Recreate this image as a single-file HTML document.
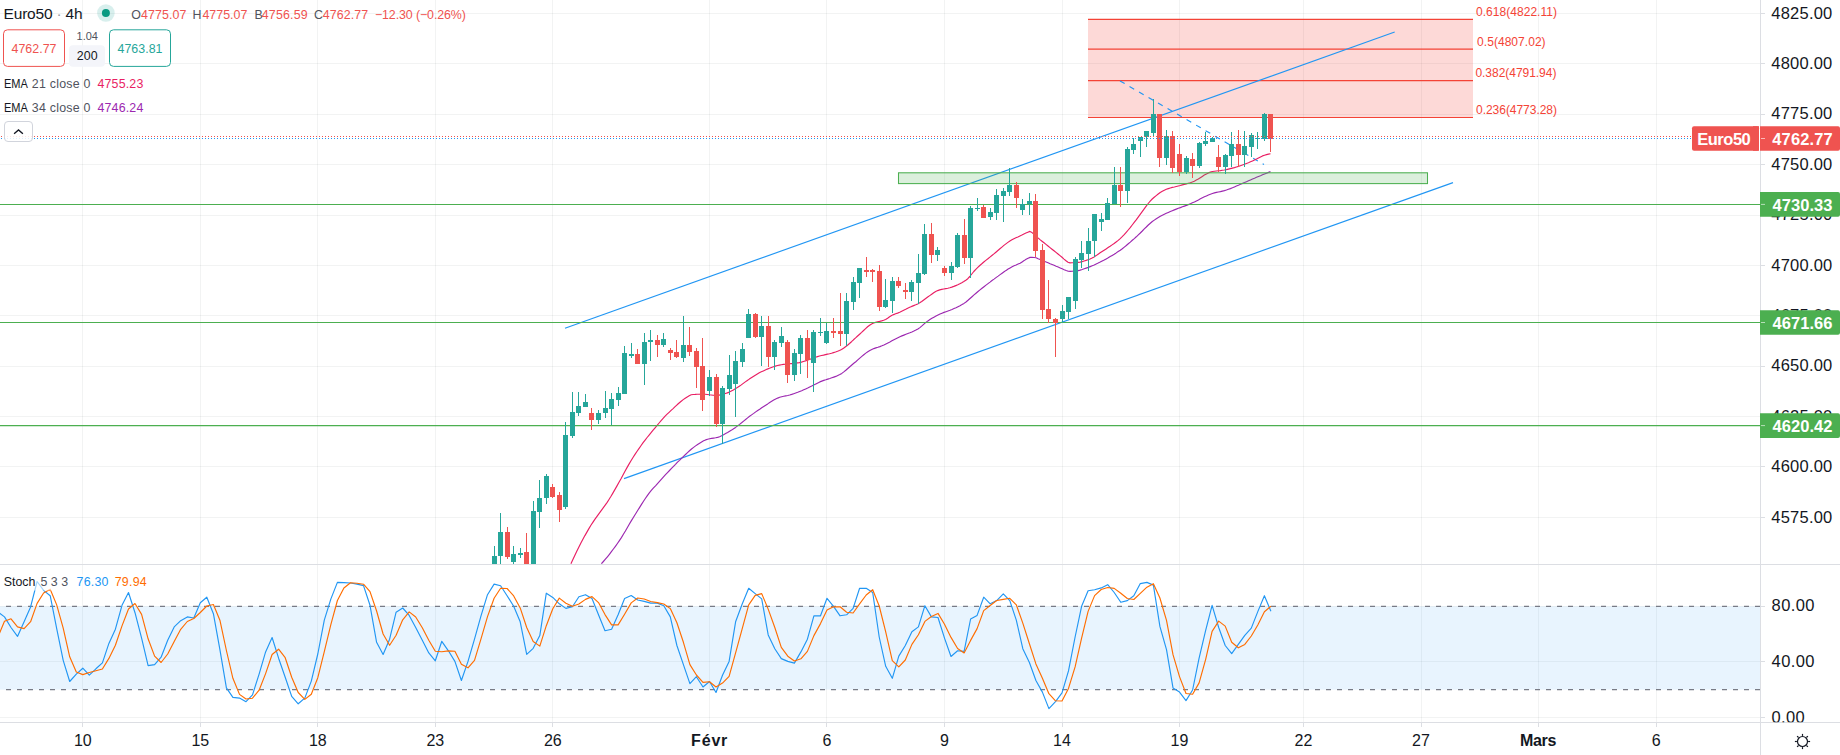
<!DOCTYPE html><html><head><meta charset="utf-8"><title>Euro50 4h</title>
<style>html,body{margin:0;padding:0;background:#fff;overflow:hidden}body{width:1840px;height:755px;position:relative;font-family:"Liberation Sans", Arial, sans-serif}svg{position:absolute;left:0;top:0;display:block}text{font-family:"Liberation Sans", Arial, sans-serif}</style></head><body>
<svg width="1840" height="755" viewBox="0 0 1840 755">
<rect width="1840" height="755" fill="#fff"/>
<defs><clipPath id="cm"><rect x="0" y="0" width="1760" height="564"/></clipPath><clipPath id="cs"><rect x="0" y="565" width="1760" height="157"/></clipPath><clipPath id="ca"><rect x="1760" y="0" width="80" height="722.3"/></clipPath></defs>
<g shape-rendering="crispEdges" stroke="#2a2e39" stroke-opacity="0.06" stroke-width="1">
<line x1="82.5" y1="0" x2="82.5" y2="722"/>
<line x1="200.5" y1="0" x2="200.5" y2="722"/>
<line x1="317.5" y1="0" x2="317.5" y2="722"/>
<line x1="435.5" y1="0" x2="435.5" y2="722"/>
<line x1="552.5" y1="0" x2="552.5" y2="722"/>
<line x1="709.5" y1="0" x2="709.5" y2="722"/>
<line x1="826.5" y1="0" x2="826.5" y2="722"/>
<line x1="944.5" y1="0" x2="944.5" y2="722"/>
<line x1="1062.5" y1="0" x2="1062.5" y2="722"/>
<line x1="1179.5" y1="0" x2="1179.5" y2="722"/>
<line x1="1303.5" y1="0" x2="1303.5" y2="722"/>
<line x1="1421.5" y1="0" x2="1421.5" y2="722"/>
<line x1="1538.5" y1="0" x2="1538.5" y2="722"/>
<line x1="1656.5" y1="0" x2="1656.5" y2="722"/>
<line x1="0" y1="13.5" x2="1760" y2="13.5"/>
<line x1="0" y1="63.5" x2="1760" y2="63.5"/>
<line x1="0" y1="114.5" x2="1760" y2="114.5"/>
<line x1="0" y1="164.5" x2="1760" y2="164.5"/>
<line x1="0" y1="215.5" x2="1760" y2="215.5"/>
<line x1="0" y1="265.5" x2="1760" y2="265.5"/>
<line x1="0" y1="315.5" x2="1760" y2="315.5"/>
<line x1="0" y1="366.5" x2="1760" y2="366.5"/>
<line x1="0" y1="416.5" x2="1760" y2="416.5"/>
<line x1="0" y1="466.5" x2="1760" y2="466.5"/>
<line x1="0" y1="517.5" x2="1760" y2="517.5"/>
<line x1="0" y1="606.5" x2="1760" y2="606.5"/>
<line x1="0" y1="661.5" x2="1760" y2="661.5"/>
<line x1="0" y1="717.5" x2="1760" y2="717.5"/>
</g>
<g clip-path="url(#cm)">
<rect x="1088" y="19.4" width="385" height="98.1" fill="#f44336" fill-opacity="0.2"/>
<line x1="1088" y1="19.4" x2="1473" y2="19.4" stroke="#f44336" stroke-width="1.15"/>
<line x1="1088" y1="49.1" x2="1473" y2="49.1" stroke="#f44336" stroke-width="1.15"/>
<line x1="1088" y1="80.6" x2="1473" y2="80.6" stroke="#f44336" stroke-width="1.15"/>
<line x1="1088" y1="117.5" x2="1473" y2="117.5" stroke="#f44336" stroke-width="1.15"/>
<line x1="565" y1="328.2" x2="1394.7" y2="32" stroke="#2196f3" stroke-width="1.15"/>
<line x1="624" y1="478.6" x2="1453" y2="182.6" stroke="#2196f3" stroke-width="1.15"/>
<line x1="1120" y1="80.9" x2="1264" y2="164.6" stroke="#2196f3" stroke-width="1.15" stroke-dasharray="5.4 5.6"/>
<polyline fill="none" stroke="#9c27b0" stroke-width="1.15" stroke-linejoin="round" points="601.4,563.7 603.4,561.5 605.4,559.2 607.4,556.8 609.4,554.3 611.4,551.7 613.4,549.0 615.4,546.3 617.4,543.5 619.4,540.6 621.4,537.6 623.4,534.3 625.4,531.0 627.4,527.5 629.4,524.0 631.4,520.6 633.5,517.2 635.5,514.0 637.5,510.8 639.5,507.6 641.5,504.4 643.5,501.3 645.5,498.3 647.5,495.4 649.5,492.7 651.5,490.2 653.5,487.9 655.5,485.8 657.5,483.6 659.5,481.3 661.5,479.1 663.5,476.9 665.5,474.7 667.5,472.6 669.5,470.5 671.5,468.4 673.5,466.3 675.5,464.3 677.5,462.2 679.5,460.3 681.5,458.3 683.5,456.4 685.5,454.5 687.5,452.6 689.5,450.8 691.5,449.0 693.6,447.4 695.6,445.9 697.6,444.5 699.6,443.2 701.6,442.0 703.6,440.8 705.6,439.9 707.6,439.2 709.6,438.7 711.6,438.4 713.6,438.1 715.6,437.8 717.6,437.4 719.6,436.7 721.6,435.8 723.6,434.7 725.6,433.6 727.6,432.5 729.6,431.3 731.6,430.1 733.6,428.7 735.6,427.4 737.6,425.9 739.6,424.4 741.6,422.8 743.6,421.1 745.6,419.5 747.6,417.9 749.6,416.3 751.6,414.9 753.7,413.4 755.7,411.9 757.7,410.5 759.7,409.2 761.7,407.8 763.7,406.5 765.7,405.2 767.7,403.9 769.7,402.5 771.7,401.3 773.7,400.1 775.7,399.0 777.7,398.1 779.7,397.3 781.7,396.7 783.7,396.3 785.7,395.9 787.7,395.5 789.7,395.0 791.7,394.4 793.7,393.7 795.7,393.0 797.7,392.3 799.7,391.5 801.7,390.7 803.7,389.8 805.7,388.9 807.7,388.0 809.7,387.0 811.7,386.0 813.7,384.9 815.8,383.9 817.8,382.9 819.8,381.9 821.8,381.1 823.8,380.4 825.8,379.8 827.8,379.1 829.8,378.5 831.8,377.8 833.8,377.1 835.8,376.4 837.8,375.5 839.8,374.6 841.8,373.4 843.8,371.9 845.8,370.3 847.8,368.5 849.8,366.7 851.8,365.0 853.8,363.3 855.8,361.7 857.8,359.9 859.8,358.1 861.8,356.4 863.8,354.7 865.8,353.1 867.8,351.7 869.8,350.5 871.8,349.5 873.8,348.6 875.9,347.9 877.9,347.3 879.9,346.6 881.9,345.8 883.9,344.9 885.9,343.9 887.9,342.9 889.9,341.9 891.9,340.8 893.9,339.7 895.9,338.7 897.9,337.7 899.9,336.7 901.9,335.9 903.9,335.1 905.9,334.3 907.9,333.5 909.9,332.8 911.9,332.0 913.9,331.1 915.9,330.1 917.9,329.0 919.9,327.6 921.9,325.9 923.9,324.1 925.9,322.4 927.9,320.9 929.9,319.6 931.9,318.3 933.9,317.2 936.0,316.1 938.0,315.0 940.0,314.1 942.0,313.2 944.0,312.4 946.0,311.7 948.0,311.0 950.0,310.3 952.0,309.5 954.0,308.6 956.0,307.7 958.0,306.7 960.0,305.7 962.0,304.6 964.0,303.4 966.0,302.0 968.0,300.3 970.0,298.5 972.0,296.7 974.0,294.9 976.0,293.2 978.0,291.5 980.0,289.9 982.0,288.3 984.0,286.7 986.0,285.1 988.0,283.6 990.0,282.1 992.0,280.5 994.0,279.1 996.0,277.6 998.1,276.1 1000.1,274.6 1002.1,273.2 1004.1,271.8 1006.1,270.4 1008.1,269.1 1010.1,267.9 1012.1,266.8 1014.1,265.8 1016.1,265.0 1018.1,264.1 1020.1,263.2 1022.1,261.9 1024.1,260.6 1026.1,259.2 1028.1,258.2 1030.1,257.4 1032.1,257.4 1034.1,257.5 1036.1,257.7 1038.1,258.7 1040.1,259.5 1042.1,260.3 1044.1,261.2 1046.1,262.0 1048.1,262.8 1050.1,263.7 1052.1,264.5 1054.1,265.3 1056.1,266.2 1058.2,267.0 1060.2,267.9 1062.2,268.8 1064.2,269.7 1066.2,270.5 1068.2,271.2 1070.2,271.4 1072.2,271.3 1074.2,271.1 1076.2,270.9 1078.2,270.6 1080.2,270.1 1082.2,269.5 1084.2,268.8 1086.2,268.1 1088.2,267.4 1090.2,266.6 1092.2,265.8 1094.2,265.0 1096.2,264.0 1098.2,263.1 1100.2,262.1 1102.2,261.0 1104.2,260.0 1106.2,258.9 1108.2,257.8 1110.2,256.6 1112.2,255.4 1114.2,254.2 1116.2,252.9 1118.2,251.5 1120.3,250.2 1122.3,248.7 1124.3,247.1 1126.3,245.5 1128.3,243.8 1130.3,242.1 1132.3,240.3 1134.3,238.6 1136.3,236.8 1138.3,234.9 1140.3,233.0 1142.3,231.0 1144.3,228.9 1146.3,227.0 1148.3,225.0 1150.3,223.2 1152.3,221.5 1154.3,220.1 1156.3,218.7 1158.3,217.5 1160.3,216.3 1162.3,215.2 1164.3,214.2 1166.3,213.3 1168.3,212.4 1170.3,211.5 1172.3,210.7 1174.3,209.9 1176.3,209.1 1178.3,208.3 1180.4,207.6 1182.4,206.8 1184.4,206.1 1186.4,205.4 1188.4,204.6 1190.4,203.7 1192.4,202.8 1194.4,201.9 1196.4,200.9 1198.4,199.9 1200.4,198.8 1202.4,197.8 1204.4,196.8 1206.4,195.9 1208.4,195.0 1210.4,194.2 1212.4,193.5 1214.4,192.9 1216.4,192.4 1218.4,192.0 1220.4,191.6 1222.4,191.1 1224.4,190.6 1226.4,190.0 1228.4,189.3 1230.4,188.6 1232.4,187.8 1234.4,186.9 1236.4,186.0 1238.4,185.2 1240.5,184.3 1242.5,183.4 1244.5,182.6 1246.5,181.7 1248.5,180.8 1250.5,179.9 1252.5,179.0 1254.5,178.2 1256.5,177.3 1258.5,176.5 1260.5,175.7 1262.5,174.8 1264.5,174.0 1266.5,173.2 1268.5,172.4 1270.5,171.6"/>
<polyline fill="none" stroke="#e91e63" stroke-width="1.15" stroke-linejoin="round" points="570.9,563.7 572.9,559.4 574.9,555.2 576.9,551.1 578.9,547.0 580.9,543.1 582.9,539.3 584.9,535.6 586.9,532.1 588.9,528.6 590.9,525.3 593.0,522.1 595.0,519.1 597.0,516.3 599.0,513.6 601.0,510.9 603.0,508.2 605.0,505.4 607.0,502.6 609.0,499.5 611.0,496.3 613.0,492.9 615.0,489.4 617.0,485.9 619.0,482.3 621.0,478.7 623.0,474.9 625.0,471.2 627.0,467.6 629.0,464.1 631.0,460.8 633.0,457.5 635.0,454.4 637.1,451.3 639.1,448.4 641.1,445.5 643.1,442.7 645.1,440.1 647.1,437.5 649.1,435.1 651.1,432.6 653.1,430.2 655.1,427.8 657.1,425.4 659.1,423.0 661.1,420.6 663.1,418.4 665.1,416.2 667.1,414.2 669.1,412.3 671.1,410.4 673.1,408.6 675.1,406.7 677.1,404.8 679.1,403.0 681.2,401.2 683.2,399.6 685.2,398.2 687.2,396.9 689.2,395.7 691.2,394.8 693.2,394.5 695.2,394.4 697.2,394.2 699.2,394.2 701.2,394.1 703.2,394.1 705.2,394.2 707.2,394.5 709.2,394.8 711.2,395.0 713.2,395.3 715.2,395.4 717.2,395.3 719.2,395.1 721.2,394.6 723.2,394.1 725.3,393.5 727.3,392.9 729.3,392.1 731.3,391.1 733.3,390.0 735.3,388.8 737.3,387.6 739.3,386.3 741.3,384.9 743.3,383.4 745.3,381.9 747.3,380.5 749.3,379.1 751.3,377.8 753.3,376.5 755.3,375.2 757.3,374.0 759.3,372.8 761.3,371.8 763.3,370.9 765.3,370.0 767.3,369.1 769.4,368.3 771.4,367.5 773.4,366.8 775.4,366.1 777.4,365.5 779.4,365.1 781.4,364.7 783.4,364.4 785.4,364.2 787.4,363.9 789.4,363.8 791.4,363.6 793.4,363.4 795.4,363.2 797.4,362.9 799.4,362.6 801.4,362.1 803.4,361.5 805.4,360.9 807.4,360.2 809.4,359.4 811.5,358.7 813.5,357.9 815.5,357.2 817.5,356.6 819.5,356.0 821.5,355.5 823.5,355.1 825.5,354.6 827.5,354.1 829.5,353.7 831.5,353.2 833.5,352.6 835.5,352.0 837.5,351.3 839.5,350.5 841.5,349.6 843.5,348.3 845.5,346.7 847.5,345.2 849.5,343.5 851.5,341.7 853.5,339.8 855.6,337.9 857.6,336.0 859.6,334.2 861.6,332.4 863.6,330.5 865.6,328.6 867.6,326.8 869.6,325.2 871.6,323.9 873.6,323.0 875.6,322.4 877.6,321.8 879.6,321.4 881.6,320.9 883.6,320.3 885.6,319.5 887.6,318.3 889.6,316.8 891.6,315.5 893.6,314.6 895.6,313.8 897.6,313.1 899.7,312.3 901.7,311.3 903.7,310.3 905.7,309.3 907.7,308.2 909.7,307.3 911.7,306.4 913.7,305.6 915.7,304.8 917.7,303.9 919.7,302.8 921.7,301.5 923.7,300.0 925.7,298.5 927.7,297.0 929.7,295.6 931.7,294.2 933.7,292.8 935.7,291.5 937.7,290.6 939.7,289.9 941.7,289.4 943.8,289.0 945.8,288.6 947.8,288.2 949.8,287.7 951.8,287.1 953.8,286.4 955.8,285.6 957.8,284.8 959.8,283.8 961.8,282.7 963.8,281.5 965.8,280.2 967.8,278.7 969.8,276.5 971.8,274.0 973.8,271.5 975.8,269.3 977.8,267.4 979.8,265.5 981.8,263.8 983.8,262.0 985.8,260.4 987.9,258.8 989.9,257.1 991.9,255.5 993.9,253.9 995.9,252.2 997.9,250.5 999.9,248.8 1001.9,247.1 1003.9,245.4 1005.9,243.9 1007.9,242.4 1009.9,241.0 1011.9,239.8 1013.9,238.7 1015.9,237.8 1017.9,236.9 1019.9,235.9 1021.9,235.0 1023.9,234.0 1025.9,233.1 1027.9,232.2 1029.9,231.4 1032.0,232.6 1034.0,234.2 1036.0,236.1 1038.0,237.9 1040.0,239.6 1042.0,241.2 1044.0,242.8 1046.0,244.4 1048.0,246.0 1050.0,247.6 1052.0,249.2 1054.0,250.8 1056.0,252.4 1058.0,254.0 1060.0,255.6 1062.0,257.3 1064.0,259.1 1066.0,260.8 1068.0,262.3 1070.0,262.9 1072.0,262.8 1074.1,262.7 1076.1,262.6 1078.1,262.4 1080.1,262.1 1082.1,261.6 1084.1,261.0 1086.1,260.4 1088.1,259.7 1090.1,259.0 1092.1,258.0 1094.1,256.9 1096.1,255.6 1098.1,254.2 1100.1,252.8 1102.1,251.5 1104.1,250.2 1106.1,248.9 1108.1,247.6 1110.1,246.3 1112.1,244.9 1114.1,243.5 1116.1,242.0 1118.2,240.4 1120.2,238.6 1122.2,236.7 1124.2,234.7 1126.2,232.4 1128.2,230.0 1130.2,227.6 1132.2,225.0 1134.2,222.4 1136.2,219.9 1138.2,217.1 1140.2,214.3 1142.2,211.6 1144.2,208.8 1146.2,206.1 1148.2,203.5 1150.2,201.1 1152.2,199.0 1154.2,197.2 1156.2,195.6 1158.2,194.0 1160.2,192.5 1162.3,191.3 1164.3,190.2 1166.3,189.3 1168.3,188.6 1170.3,188.0 1172.3,187.4 1174.3,187.0 1176.3,186.5 1178.3,186.0 1180.3,185.5 1182.3,184.9 1184.3,184.4 1186.3,183.9 1188.3,183.3 1190.3,182.7 1192.3,182.0 1194.3,181.2 1196.3,180.1 1198.3,179.0 1200.3,177.7 1202.3,176.4 1204.3,175.1 1206.4,173.9 1208.4,172.9 1210.4,172.1 1212.4,171.5 1214.4,171.2 1216.4,171.0 1218.4,170.8 1220.4,170.6 1222.4,170.3 1224.4,170.0 1226.4,169.6 1228.4,169.1 1230.4,168.6 1232.4,168.1 1234.4,167.6 1236.4,167.0 1238.4,166.4 1240.4,165.7 1242.4,165.0 1244.4,164.3 1246.4,163.5 1248.4,162.7 1250.5,161.8 1252.5,160.9 1254.5,160.0 1256.5,159.1 1258.5,158.0 1260.5,156.9 1262.5,155.9 1264.5,155.2 1266.5,154.6 1268.5,154.1 1270.5,153.7"/>
<rect x="898.5" y="172.8" width="529" height="10.8" fill="#4caf50" fill-opacity="0.2" stroke="#4caf50" stroke-width="1.05"/>
<line x1="0" y1="204.4" x2="1760" y2="204.4" stroke="#4caf50" stroke-width="1.05"/>
<line x1="0" y1="322.5" x2="1760" y2="322.5" stroke="#4caf50" stroke-width="1.05"/>
<line x1="0" y1="425.6" x2="1760" y2="425.6" stroke="#4caf50" stroke-width="1.05"/>
<g shape-rendering="crispEdges">
<rect x="494" y="546" width="1" height="31" fill="#26a69a"/>
<rect x="492" y="556" width="5" height="21" fill="#26a69a"/>
<rect x="500" y="513" width="1" height="64" fill="#26a69a"/>
<rect x="498" y="532" width="5" height="24" fill="#26a69a"/>
<rect x="507" y="527" width="1" height="32" fill="#ef5350"/>
<rect x="505" y="532" width="5" height="25" fill="#ef5350"/>
<rect x="513" y="546" width="1" height="18" fill="#26a69a"/>
<rect x="511" y="554" width="5" height="8" fill="#26a69a"/>
<rect x="520" y="548" width="1" height="10" fill="#26a69a"/>
<rect x="518" y="553" width="5" height="2" fill="#26a69a"/>
<rect x="526" y="533" width="1" height="44" fill="#ef5350"/>
<rect x="524" y="552" width="5" height="25" fill="#ef5350"/>
<rect x="533" y="501" width="1" height="76" fill="#26a69a"/>
<rect x="531" y="511" width="5" height="66" fill="#26a69a"/>
<rect x="539" y="480" width="1" height="48" fill="#26a69a"/>
<rect x="537" y="498" width="5" height="14" fill="#26a69a"/>
<rect x="546" y="474" width="1" height="30" fill="#26a69a"/>
<rect x="544" y="476" width="5" height="22" fill="#26a69a"/>
<rect x="552" y="484" width="1" height="14" fill="#ef5350"/>
<rect x="550" y="487" width="5" height="10" fill="#ef5350"/>
<rect x="559" y="492" width="1" height="30" fill="#ef5350"/>
<rect x="557" y="495" width="5" height="15" fill="#ef5350"/>
<rect x="565" y="422" width="1" height="87" fill="#26a69a"/>
<rect x="563" y="435" width="5" height="72" fill="#26a69a"/>
<rect x="572" y="392" width="1" height="46" fill="#26a69a"/>
<rect x="570" y="412" width="5" height="24" fill="#26a69a"/>
<rect x="578" y="392" width="1" height="24" fill="#26a69a"/>
<rect x="576" y="406" width="5" height="7" fill="#26a69a"/>
<rect x="585" y="394" width="1" height="13" fill="#26a69a"/>
<rect x="583" y="402" width="5" height="5" fill="#26a69a"/>
<rect x="591" y="408" width="1" height="22" fill="#ef5350"/>
<rect x="589" y="413" width="5" height="7" fill="#ef5350"/>
<rect x="598" y="410" width="1" height="14" fill="#26a69a"/>
<rect x="596" y="413" width="5" height="7" fill="#26a69a"/>
<rect x="605" y="391" width="1" height="27" fill="#26a69a"/>
<rect x="603" y="408" width="5" height="5" fill="#26a69a"/>
<rect x="611" y="393" width="1" height="32" fill="#26a69a"/>
<rect x="609" y="399" width="5" height="10" fill="#26a69a"/>
<rect x="618" y="387" width="1" height="19" fill="#26a69a"/>
<rect x="616" y="393" width="5" height="7" fill="#26a69a"/>
<rect x="624" y="346" width="1" height="48" fill="#26a69a"/>
<rect x="622" y="353" width="5" height="41" fill="#26a69a"/>
<rect x="631" y="343" width="1" height="15" fill="#26a69a"/>
<rect x="629" y="354" width="5" height="2" fill="#26a69a"/>
<rect x="637" y="349" width="1" height="15" fill="#ef5350"/>
<rect x="635" y="354" width="5" height="10" fill="#ef5350"/>
<rect x="644" y="333" width="1" height="52" fill="#26a69a"/>
<rect x="642" y="342" width="5" height="22" fill="#26a69a"/>
<rect x="650" y="330" width="1" height="31" fill="#26a69a"/>
<rect x="648" y="340" width="5" height="2" fill="#26a69a"/>
<rect x="657" y="335" width="1" height="22" fill="#ef5350"/>
<rect x="655" y="340" width="5" height="5" fill="#ef5350"/>
<rect x="663" y="333" width="1" height="14" fill="#26a69a"/>
<rect x="661" y="339" width="5" height="6" fill="#26a69a"/>
<rect x="670" y="348" width="1" height="12" fill="#ef5350"/>
<rect x="668" y="350" width="5" height="3" fill="#ef5350"/>
<rect x="676" y="340" width="1" height="18" fill="#ef5350"/>
<rect x="674" y="352" width="5" height="5" fill="#ef5350"/>
<rect x="683" y="316" width="1" height="46" fill="#26a69a"/>
<rect x="681" y="345" width="5" height="13" fill="#26a69a"/>
<rect x="689" y="327" width="1" height="29" fill="#ef5350"/>
<rect x="687" y="345" width="5" height="7" fill="#ef5350"/>
<rect x="696" y="348" width="1" height="40" fill="#ef5350"/>
<rect x="694" y="351" width="5" height="16" fill="#ef5350"/>
<rect x="702" y="338" width="1" height="73" fill="#ef5350"/>
<rect x="700" y="366" width="5" height="34" fill="#ef5350"/>
<rect x="709" y="370" width="1" height="26" fill="#26a69a"/>
<rect x="707" y="377" width="5" height="14" fill="#26a69a"/>
<rect x="716" y="374" width="1" height="53" fill="#ef5350"/>
<rect x="714" y="377" width="5" height="47" fill="#ef5350"/>
<rect x="722" y="386" width="1" height="58" fill="#26a69a"/>
<rect x="720" y="388" width="5" height="36" fill="#26a69a"/>
<rect x="729" y="355" width="1" height="40" fill="#26a69a"/>
<rect x="727" y="375" width="5" height="14" fill="#26a69a"/>
<rect x="735" y="351" width="1" height="66" fill="#26a69a"/>
<rect x="733" y="361" width="5" height="23" fill="#26a69a"/>
<rect x="742" y="343" width="1" height="24" fill="#26a69a"/>
<rect x="740" y="349" width="5" height="13" fill="#26a69a"/>
<rect x="748" y="309" width="1" height="29" fill="#26a69a"/>
<rect x="746" y="314" width="5" height="24" fill="#26a69a"/>
<rect x="755" y="313" width="1" height="25" fill="#ef5350"/>
<rect x="753" y="314" width="5" height="23" fill="#ef5350"/>
<rect x="761" y="316" width="1" height="50" fill="#26a69a"/>
<rect x="759" y="326" width="5" height="11" fill="#26a69a"/>
<rect x="768" y="316" width="1" height="51" fill="#ef5350"/>
<rect x="766" y="326" width="5" height="31" fill="#ef5350"/>
<rect x="774" y="340" width="1" height="30" fill="#26a69a"/>
<rect x="772" y="342" width="5" height="15" fill="#26a69a"/>
<rect x="781" y="327" width="1" height="20" fill="#26a69a"/>
<rect x="779" y="336" width="5" height="7" fill="#26a69a"/>
<rect x="787" y="340" width="1" height="43" fill="#ef5350"/>
<rect x="785" y="342" width="5" height="33" fill="#ef5350"/>
<rect x="794" y="349" width="1" height="32" fill="#26a69a"/>
<rect x="792" y="353" width="5" height="22" fill="#26a69a"/>
<rect x="800" y="335" width="1" height="39" fill="#26a69a"/>
<rect x="798" y="338" width="5" height="16" fill="#26a69a"/>
<rect x="807" y="330" width="1" height="48" fill="#ef5350"/>
<rect x="805" y="338" width="5" height="22" fill="#ef5350"/>
<rect x="813" y="330" width="1" height="62" fill="#26a69a"/>
<rect x="811" y="332" width="5" height="31" fill="#26a69a"/>
<rect x="820" y="318" width="1" height="18" fill="#26a69a"/>
<rect x="818" y="332" width="5" height="1" fill="#26a69a"/>
<rect x="826" y="323" width="1" height="21" fill="#26a69a"/>
<rect x="824" y="331" width="5" height="12" fill="#26a69a"/>
<rect x="833" y="318" width="1" height="20" fill="#ef5350"/>
<rect x="831" y="331" width="5" height="2" fill="#ef5350"/>
<rect x="840" y="293" width="1" height="53" fill="#ef5350"/>
<rect x="838" y="331" width="5" height="3" fill="#ef5350"/>
<rect x="846" y="293" width="1" height="53" fill="#26a69a"/>
<rect x="844" y="301" width="5" height="33" fill="#26a69a"/>
<rect x="853" y="277" width="1" height="33" fill="#26a69a"/>
<rect x="851" y="282" width="5" height="20" fill="#26a69a"/>
<rect x="859" y="268" width="1" height="30" fill="#26a69a"/>
<rect x="857" y="268" width="5" height="15" fill="#26a69a"/>
<rect x="866" y="257" width="1" height="20" fill="#ef5350"/>
<rect x="864" y="270" width="5" height="2" fill="#ef5350"/>
<rect x="872" y="269" width="1" height="13" fill="#ef5350"/>
<rect x="870" y="270" width="5" height="2" fill="#ef5350"/>
<rect x="879" y="265" width="1" height="46" fill="#ef5350"/>
<rect x="877" y="271" width="5" height="36" fill="#ef5350"/>
<rect x="885" y="279" width="1" height="29" fill="#26a69a"/>
<rect x="883" y="300" width="5" height="7" fill="#26a69a"/>
<rect x="892" y="277" width="1" height="36" fill="#26a69a"/>
<rect x="890" y="281" width="5" height="20" fill="#26a69a"/>
<rect x="898" y="277" width="1" height="11" fill="#ef5350"/>
<rect x="896" y="281" width="5" height="5" fill="#ef5350"/>
<rect x="905" y="283" width="1" height="16" fill="#ef5350"/>
<rect x="903" y="290" width="5" height="2" fill="#ef5350"/>
<rect x="911" y="280" width="1" height="21" fill="#26a69a"/>
<rect x="909" y="282" width="5" height="10" fill="#26a69a"/>
<rect x="918" y="254" width="1" height="50" fill="#26a69a"/>
<rect x="916" y="273" width="5" height="10" fill="#26a69a"/>
<rect x="924" y="224" width="1" height="51" fill="#26a69a"/>
<rect x="922" y="234" width="5" height="40" fill="#26a69a"/>
<rect x="931" y="223" width="1" height="40" fill="#ef5350"/>
<rect x="929" y="234" width="5" height="21" fill="#ef5350"/>
<rect x="937" y="247" width="1" height="14" fill="#26a69a"/>
<rect x="935" y="250" width="5" height="5" fill="#26a69a"/>
<rect x="944" y="266" width="1" height="10" fill="#ef5350"/>
<rect x="942" y="268" width="5" height="5" fill="#ef5350"/>
<rect x="951" y="262" width="1" height="18" fill="#26a69a"/>
<rect x="949" y="266" width="5" height="7" fill="#26a69a"/>
<rect x="957" y="233" width="1" height="35" fill="#26a69a"/>
<rect x="955" y="235" width="5" height="32" fill="#26a69a"/>
<rect x="964" y="219" width="1" height="45" fill="#ef5350"/>
<rect x="962" y="235" width="5" height="23" fill="#ef5350"/>
<rect x="970" y="206" width="1" height="72" fill="#26a69a"/>
<rect x="968" y="208" width="5" height="50" fill="#26a69a"/>
<rect x="977" y="198" width="1" height="13" fill="#26a69a"/>
<rect x="975" y="208" width="5" height="1" fill="#26a69a"/>
<rect x="983" y="205" width="1" height="13" fill="#ef5350"/>
<rect x="981" y="207" width="5" height="11" fill="#ef5350"/>
<rect x="990" y="208" width="1" height="12" fill="#26a69a"/>
<rect x="988" y="212" width="5" height="5" fill="#26a69a"/>
<rect x="996" y="189" width="1" height="31" fill="#26a69a"/>
<rect x="994" y="195" width="5" height="18" fill="#26a69a"/>
<rect x="1003" y="188" width="1" height="34" fill="#26a69a"/>
<rect x="1001" y="191" width="5" height="5" fill="#26a69a"/>
<rect x="1009" y="168" width="1" height="28" fill="#26a69a"/>
<rect x="1007" y="185" width="5" height="7" fill="#26a69a"/>
<rect x="1016" y="182" width="1" height="26" fill="#ef5350"/>
<rect x="1014" y="185" width="5" height="13" fill="#ef5350"/>
<rect x="1022" y="199" width="1" height="16" fill="#26a69a"/>
<rect x="1020" y="204" width="5" height="6" fill="#26a69a"/>
<rect x="1029" y="193" width="1" height="22" fill="#26a69a"/>
<rect x="1027" y="201" width="5" height="3" fill="#26a69a"/>
<rect x="1035" y="194" width="1" height="63" fill="#ef5350"/>
<rect x="1033" y="201" width="5" height="50" fill="#ef5350"/>
<rect x="1042" y="244" width="1" height="75" fill="#ef5350"/>
<rect x="1040" y="250" width="5" height="60" fill="#ef5350"/>
<rect x="1048" y="280" width="1" height="43" fill="#ef5350"/>
<rect x="1046" y="309" width="5" height="10" fill="#ef5350"/>
<rect x="1055" y="318" width="1" height="39" fill="#ef5350"/>
<rect x="1053" y="319" width="5" height="4" fill="#ef5350"/>
<rect x="1062" y="305" width="1" height="18" fill="#26a69a"/>
<rect x="1060" y="311" width="5" height="8" fill="#26a69a"/>
<rect x="1068" y="297" width="1" height="22" fill="#26a69a"/>
<rect x="1066" y="297" width="5" height="15" fill="#26a69a"/>
<rect x="1075" y="257" width="1" height="52" fill="#26a69a"/>
<rect x="1073" y="259" width="5" height="42" fill="#26a69a"/>
<rect x="1081" y="241" width="1" height="27" fill="#26a69a"/>
<rect x="1079" y="253" width="5" height="7" fill="#26a69a"/>
<rect x="1088" y="228" width="1" height="43" fill="#26a69a"/>
<rect x="1086" y="241" width="5" height="13" fill="#26a69a"/>
<rect x="1094" y="214" width="1" height="43" fill="#26a69a"/>
<rect x="1092" y="214" width="5" height="27" fill="#26a69a"/>
<rect x="1101" y="213" width="1" height="18" fill="#26a69a"/>
<rect x="1099" y="219" width="5" height="3" fill="#26a69a"/>
<rect x="1107" y="198" width="1" height="22" fill="#26a69a"/>
<rect x="1105" y="203" width="5" height="17" fill="#26a69a"/>
<rect x="1114" y="167" width="1" height="37" fill="#26a69a"/>
<rect x="1112" y="185" width="5" height="19" fill="#26a69a"/>
<rect x="1120" y="167" width="1" height="40" fill="#ef5350"/>
<rect x="1118" y="185" width="5" height="6" fill="#ef5350"/>
<rect x="1127" y="147" width="1" height="56" fill="#26a69a"/>
<rect x="1125" y="149" width="5" height="42" fill="#26a69a"/>
<rect x="1133" y="138" width="1" height="16" fill="#26a69a"/>
<rect x="1131" y="144" width="5" height="6" fill="#26a69a"/>
<rect x="1140" y="137" width="1" height="20" fill="#26a69a"/>
<rect x="1138" y="137" width="5" height="4" fill="#26a69a"/>
<rect x="1146" y="131" width="1" height="16" fill="#26a69a"/>
<rect x="1144" y="131" width="5" height="6" fill="#26a69a"/>
<rect x="1153" y="99" width="1" height="37" fill="#26a69a"/>
<rect x="1151" y="114" width="5" height="19" fill="#26a69a"/>
<rect x="1159" y="114" width="1" height="53" fill="#ef5350"/>
<rect x="1157" y="114" width="5" height="44" fill="#ef5350"/>
<rect x="1166" y="130" width="1" height="35" fill="#26a69a"/>
<rect x="1164" y="136" width="5" height="22" fill="#26a69a"/>
<rect x="1172" y="131" width="1" height="42" fill="#ef5350"/>
<rect x="1170" y="136" width="5" height="32" fill="#ef5350"/>
<rect x="1179" y="144" width="1" height="32" fill="#ef5350"/>
<rect x="1177" y="154" width="5" height="18" fill="#ef5350"/>
<rect x="1186" y="156" width="1" height="18" fill="#26a69a"/>
<rect x="1184" y="158" width="5" height="14" fill="#26a69a"/>
<rect x="1192" y="153" width="1" height="25" fill="#ef5350"/>
<rect x="1190" y="159" width="5" height="7" fill="#ef5350"/>
<rect x="1199" y="142" width="1" height="26" fill="#26a69a"/>
<rect x="1197" y="143" width="5" height="23" fill="#26a69a"/>
<rect x="1205" y="132" width="1" height="14" fill="#26a69a"/>
<rect x="1203" y="141" width="5" height="3" fill="#26a69a"/>
<rect x="1212" y="137" width="1" height="5" fill="#26a69a"/>
<rect x="1210" y="138" width="5" height="4" fill="#26a69a"/>
<rect x="1218" y="145" width="1" height="27" fill="#ef5350"/>
<rect x="1216" y="157" width="5" height="10" fill="#ef5350"/>
<rect x="1225" y="154" width="1" height="20" fill="#26a69a"/>
<rect x="1223" y="155" width="5" height="12" fill="#26a69a"/>
<rect x="1231" y="132" width="1" height="35" fill="#26a69a"/>
<rect x="1229" y="144" width="5" height="12" fill="#26a69a"/>
<rect x="1238" y="130" width="1" height="37" fill="#ef5350"/>
<rect x="1236" y="144" width="5" height="11" fill="#ef5350"/>
<rect x="1244" y="131" width="1" height="36" fill="#26a69a"/>
<rect x="1242" y="146" width="5" height="9" fill="#26a69a"/>
<rect x="1251" y="133" width="1" height="24" fill="#26a69a"/>
<rect x="1249" y="135" width="5" height="12" fill="#26a69a"/>
<rect x="1257" y="132" width="1" height="17" fill="#26a69a"/>
<rect x="1255" y="138" width="5" height="1" fill="#26a69a"/>
<rect x="1264" y="113" width="1" height="28" fill="#26a69a"/>
<rect x="1262" y="114" width="5" height="25" fill="#26a69a"/>
<rect x="1270" y="114" width="1" height="38" fill="#ef5350"/>
<rect x="1268" y="114" width="5" height="25" fill="#ef5350"/>
</g>
<line x1="1" y1="136.5" x2="1691" y2="136.5" stroke="#ef5350" stroke-width="1" stroke-dasharray="1 2" shape-rendering="crispEdges"/>
<line x1="1" y1="138.5" x2="1691" y2="138.5" stroke="#2196f3" stroke-width="1" stroke-dasharray="1 2" shape-rendering="crispEdges"/>
</g>
<g clip-path="url(#cs)">
<rect x="0" y="606.4" width="1760" height="83.2" fill="#2196f3" fill-opacity="0.1"/>
<line x1="0" y1="606.4" x2="1760" y2="606.4" stroke="#787b86" stroke-width="1.1" stroke-dasharray="5 6" stroke-dashoffset="5"/>
<line x1="0" y1="689.6" x2="1760" y2="689.6" stroke="#787b86" stroke-width="1.1" stroke-dasharray="5 6" stroke-dashoffset="5"/>
<polyline fill="none" stroke="#2196f3" stroke-width="1.15" stroke-linejoin="round" points="-15.1,664.2 -8.6,634.9 -2.1,612.0 4.5,616.9 11.0,627.5 17.5,636.4 24.1,621.8 30.6,606.9 37.1,581.5 43.6,590.4 50.2,595.7 56.7,628.6 63.2,660.3 69.7,681.5 76.3,674.1 82.8,668.2 89.3,675.2 95.9,668.8 102.4,662.9 108.9,643.4 115.4,629.2 122.0,605.3 128.5,592.5 135.0,612.7 141.6,638.1 148.1,665.6 154.6,664.6 161.1,657.2 167.7,640.2 174.2,626.9 180.7,620.7 187.3,616.9 193.8,618.0 200.3,602.7 206.8,597.2 213.4,613.7 219.9,649.7 226.4,687.9 232.9,697.4 239.5,698.1 246.0,701.7 252.5,694.9 259.1,674.1 265.6,651.9 272.1,637.5 278.6,658.2 285.2,677.3 291.7,696.4 298.2,703.8 304.8,698.1 311.3,681.1 317.8,654.0 324.3,620.1 330.9,598.9 337.4,582.4 343.9,582.6 350.5,583.0 357.0,584.1 363.5,585.6 370.0,605.3 376.6,642.3 383.1,654.4 389.6,639.2 396.1,612.2 402.7,608.0 409.2,615.4 415.7,627.5 422.3,640.2 428.8,652.9 435.3,660.8 441.8,641.3 448.4,650.8 454.9,661.4 461.4,680.5 468.0,661.4 474.5,639.2 481.0,615.8 487.5,594.7 494.1,584.1 500.6,585.8 507.1,595.7 513.7,606.3 520.2,621.8 526.7,654.4 533.2,648.3 539.8,635.6 546.3,593.2 552.8,597.4 559.3,603.8 565.9,608.4 572.4,606.7 578.9,596.8 585.5,594.7 592.0,598.5 598.5,614.8 605.0,630.7 611.6,629.2 618.1,614.8 624.6,598.5 631.2,595.5 637.7,600.0 644.2,601.4 650.7,603.1 657.3,603.1 663.8,605.7 670.3,616.9 676.9,645.5 683.4,664.6 689.9,683.6 696.4,676.7 703.0,687.0 709.5,681.5 716.0,692.5 722.5,675.2 729.1,661.4 735.6,621.8 742.1,604.2 748.7,588.3 755.2,593.6 761.7,598.9 768.2,634.9 774.8,648.7 781.3,658.6 787.8,661.4 794.4,663.1 800.9,651.9 807.4,639.2 813.9,615.8 820.5,615.8 827.0,598.3 833.5,606.3 840.1,615.8 846.6,614.8 853.1,608.4 859.6,588.3 866.2,588.3 872.7,592.5 879.2,637.0 885.7,666.3 892.3,678.3 898.8,656.1 905.3,645.5 911.9,631.7 918.4,626.9 924.9,605.7 931.4,616.9 938.0,617.5 944.5,638.1 951.0,656.5 957.6,650.8 964.1,651.4 970.6,619.0 977.1,615.4 983.7,597.2 990.2,603.8 996.7,600.6 1003.3,593.8 1009.8,600.6 1016.3,620.1 1022.8,648.7 1029.4,662.5 1035.9,680.5 1042.4,692.1 1048.9,708.6 1055.5,701.7 1062.0,692.8 1068.5,670.9 1075.1,637.0 1081.6,606.3 1088.1,590.8 1094.6,589.8 1101.2,587.9 1107.7,584.7 1114.2,592.5 1120.8,602.3 1127.3,600.6 1133.8,595.7 1140.3,583.6 1146.9,582.4 1153.4,585.1 1159.9,626.4 1166.5,649.7 1173.0,687.9 1179.5,692.1 1186.0,700.6 1192.6,690.0 1199.1,658.2 1205.6,630.7 1212.1,605.3 1218.7,627.5 1225.2,645.5 1231.7,653.6 1238.3,644.4 1244.8,635.3 1251.3,628.1 1257.8,611.6 1264.4,595.7 1270.9,611.2"/>
<polyline fill="none" stroke="#ff6d00" stroke-width="1.15" stroke-linejoin="round" points="-2.1,637.0 4.5,621.3 11.0,618.8 17.5,626.9 24.1,628.6 30.6,621.7 37.1,603.4 43.6,593.0 50.2,589.2 56.7,604.9 63.2,628.2 69.7,656.8 76.3,672.0 82.8,674.6 89.3,672.5 95.9,670.7 102.4,669.0 108.9,658.4 115.4,645.2 122.0,625.9 128.5,609.0 135.0,603.5 141.6,614.4 148.1,638.8 154.6,656.1 161.1,662.5 167.7,654.0 174.2,641.4 180.7,629.3 187.3,621.5 193.8,618.5 200.3,612.5 206.8,606.0 213.4,604.5 219.9,620.2 226.4,650.5 232.9,678.3 239.5,694.4 246.0,699.0 252.5,698.2 259.1,690.2 265.6,673.6 272.1,654.5 278.6,649.2 285.2,657.7 291.7,677.3 298.2,692.5 304.8,699.4 311.3,694.3 317.8,677.7 324.3,651.7 330.9,624.3 337.4,600.5 343.9,588.0 350.5,582.7 357.0,583.2 363.5,584.2 370.0,591.6 376.6,611.0 383.1,634.0 389.6,645.3 396.1,635.3 402.7,619.8 409.2,611.9 415.7,617.0 422.3,627.7 428.8,640.2 435.3,651.3 441.8,651.7 448.4,650.9 454.9,651.2 461.4,664.2 468.0,667.8 474.5,660.3 481.0,638.8 487.5,616.6 494.1,598.2 500.6,588.2 507.1,588.5 513.7,595.9 520.2,607.9 526.7,627.5 533.2,641.5 539.8,646.1 546.3,625.7 552.8,608.7 559.3,598.1 565.9,603.2 572.4,606.3 578.9,604.0 585.5,599.4 592.0,596.6 598.5,602.6 605.0,614.6 611.6,624.9 618.1,624.9 624.6,614.2 631.2,602.9 637.7,598.0 644.2,599.0 650.7,601.5 657.3,602.6 663.8,604.0 670.3,608.6 676.9,622.7 683.4,642.3 689.9,664.6 696.4,675.0 703.0,682.4 709.5,681.7 716.0,687.0 722.5,683.1 729.1,676.4 735.6,652.8 742.1,629.1 748.7,604.8 755.2,595.4 761.7,593.6 768.2,609.1 774.8,627.5 781.3,647.4 787.8,656.2 794.4,661.0 800.9,658.8 807.4,651.4 813.9,635.6 820.5,623.6 827.0,610.0 833.5,606.8 840.1,606.8 846.6,612.3 853.1,613.0 859.6,603.8 866.2,595.0 872.7,589.7 879.2,606.0 885.7,631.9 892.3,660.6 898.8,666.9 905.3,660.0 911.9,644.4 918.4,634.7 924.9,621.4 931.4,616.5 938.0,613.4 944.5,624.2 951.0,637.4 957.6,648.5 964.1,652.9 970.6,640.4 977.1,628.6 983.7,610.6 990.2,605.5 996.7,600.5 1003.3,599.4 1009.8,598.3 1016.3,604.8 1022.8,623.1 1029.4,643.7 1035.9,663.9 1042.4,678.3 1048.9,693.7 1055.5,700.8 1062.0,701.0 1068.5,688.4 1075.1,666.9 1081.6,638.1 1088.1,611.4 1094.6,595.6 1101.2,589.5 1107.7,587.5 1114.2,588.4 1120.8,593.2 1127.3,598.5 1133.8,599.5 1140.3,593.3 1146.9,587.2 1153.4,583.7 1159.9,598.0 1166.5,620.4 1173.0,654.7 1179.5,676.6 1186.0,693.5 1192.6,694.2 1199.1,682.9 1205.6,659.6 1212.1,631.4 1218.7,621.1 1225.2,626.1 1231.7,642.2 1238.3,647.8 1244.8,644.4 1251.3,636.0 1257.8,625.0 1264.4,611.8 1270.9,606.2"/>
</g>
<g shape-rendering="crispEdges" stroke="#dcdee3" stroke-width="1">
<line x1="0" y1="564.5" x2="1840" y2="564.5"/>
<line x1="0" y1="722.5" x2="1840" y2="722.5"/>
<line x1="1760.5" y1="0" x2="1760.5" y2="755"/>
<line x1="82.5" y1="723" x2="82.5" y2="727"/>
<line x1="200.5" y1="723" x2="200.5" y2="727"/>
<line x1="317.5" y1="723" x2="317.5" y2="727"/>
<line x1="435.5" y1="723" x2="435.5" y2="727"/>
<line x1="552.5" y1="723" x2="552.5" y2="727"/>
<line x1="709.5" y1="723" x2="709.5" y2="727"/>
<line x1="826.5" y1="723" x2="826.5" y2="727"/>
<line x1="944.5" y1="723" x2="944.5" y2="727"/>
<line x1="1062.5" y1="723" x2="1062.5" y2="727"/>
<line x1="1179.5" y1="723" x2="1179.5" y2="727"/>
<line x1="1303.5" y1="723" x2="1303.5" y2="727"/>
<line x1="1421.5" y1="723" x2="1421.5" y2="727"/>
<line x1="1538.5" y1="723" x2="1538.5" y2="727"/>
<line x1="1656.5" y1="723" x2="1656.5" y2="727"/>
<line x1="1761" y1="13.5" x2="1765" y2="13.5"/>
<line x1="1761" y1="63.5" x2="1765" y2="63.5"/>
<line x1="1761" y1="114.5" x2="1765" y2="114.5"/>
<line x1="1761" y1="164.5" x2="1765" y2="164.5"/>
<line x1="1761" y1="215.5" x2="1765" y2="215.5"/>
<line x1="1761" y1="265.5" x2="1765" y2="265.5"/>
<line x1="1761" y1="315.5" x2="1765" y2="315.5"/>
<line x1="1761" y1="366.5" x2="1765" y2="366.5"/>
<line x1="1761" y1="416.5" x2="1765" y2="416.5"/>
<line x1="1761" y1="466.5" x2="1765" y2="466.5"/>
<line x1="1761" y1="517.5" x2="1765" y2="517.5"/>
<line x1="1761" y1="606.5" x2="1765" y2="606.5"/>
<line x1="1761" y1="661.5" x2="1765" y2="661.5"/>
<line x1="1761" y1="717.5" x2="1765" y2="717.5"/>
</g>
<g clip-path="url(#ca)">
<g font-size="16.5" fill="#131722">
<text x="1771.3" y="18.5" textLength="61" lengthAdjust="spacing">4825.00</text>
<text x="1771.3" y="68.9" textLength="61" lengthAdjust="spacing">4800.00</text>
<text x="1771.3" y="119.3" textLength="61" lengthAdjust="spacing">4775.00</text>
<text x="1771.3" y="169.7" textLength="61" lengthAdjust="spacing">4750.00</text>
<text x="1771.3" y="220.1" textLength="61" lengthAdjust="spacing">4725.00</text>
<text x="1771.3" y="270.5" textLength="61" lengthAdjust="spacing">4700.00</text>
<text x="1771.3" y="320.9" textLength="61" lengthAdjust="spacing">4675.00</text>
<text x="1771.3" y="371.3" textLength="61" lengthAdjust="spacing">4650.00</text>
<text x="1771.3" y="421.7" textLength="61" lengthAdjust="spacing">4625.00</text>
<text x="1771.3" y="472.1" textLength="61" lengthAdjust="spacing">4600.00</text>
<text x="1771.3" y="522.5" textLength="61" lengthAdjust="spacing">4575.00</text>
<text x="1771.6" y="611.3" textLength="42.8" lengthAdjust="spacing">80.00</text>
<text x="1771.6" y="666.8" textLength="42.8" lengthAdjust="spacing">40.00</text>
<text x="1771.6" y="722.6" textLength="33.0" lengthAdjust="spacing">0.00</text>
</g>
<path d="M1760 192.1 h78 a2 2 0 0 1 2 2 v20.6 a2 2 0 0 1 -2 2 h-78 z" fill="#4caf50"/>
<line x1="1761" y1="204.4" x2="1765" y2="204.4" stroke="#fff" stroke-opacity="0.6" stroke-width="1"/>
<text x="1802.5" y="210.7" font-size="16.5" font-weight="bold" fill="#fff" text-anchor="middle" textLength="60" lengthAdjust="spacing">4730.33</text>
<path d="M1760 310.2 h78 a2 2 0 0 1 2 2 v20.6 a2 2 0 0 1 -2 2 h-78 z" fill="#4caf50"/>
<line x1="1761" y1="322.5" x2="1765" y2="322.5" stroke="#fff" stroke-opacity="0.6" stroke-width="1"/>
<text x="1802.5" y="328.8" font-size="16.5" font-weight="bold" fill="#fff" text-anchor="middle" textLength="60" lengthAdjust="spacing">4671.66</text>
<path d="M1760 413.3 h78 a2 2 0 0 1 2 2 v20.6 a2 2 0 0 1 -2 2 h-78 z" fill="#4caf50"/>
<line x1="1761" y1="425.6" x2="1765" y2="425.6" stroke="#fff" stroke-opacity="0.6" stroke-width="1"/>
<text x="1802.5" y="431.9" font-size="16.5" font-weight="bold" fill="#fff" text-anchor="middle" textLength="60" lengthAdjust="spacing">4620.42</text>
<path d="M1760 126.2 h78 a2 2 0 0 1 2 2 v20.6 a2 2 0 0 1 -2 2 h-78 z" fill="#ef5350"/>
<line x1="1761" y1="138.5" x2="1765" y2="138.5" stroke="#fff" stroke-opacity="0.6" stroke-width="1"/>
<text x="1802.5" y="144.9" font-size="16.5" font-weight="bold" fill="#fff" text-anchor="middle" textLength="60.5" lengthAdjust="spacing">4762.77</text>
</g>
<rect x="1692" y="126.2" width="67" height="24.6" rx="2" fill="#ef5350"/>
<rect x="1753" y="126.2" width="6" height="24.6" fill="#ef5350"/>
<text x="1724" y="144.9" font-size="16.5" font-weight="bold" fill="#fff" text-anchor="middle" textLength="53.5" lengthAdjust="spacing">Euro50</text>
<g font-size="16" fill="#131722" text-anchor="middle">
<text x="82.8" y="745.8">10</text>
<text x="200.3" y="745.8">15</text>
<text x="317.8" y="745.8">18</text>
<text x="435.3" y="745.8">23</text>
<text x="552.8" y="745.8">26</text>
<text x="709.2" y="745.8" font-weight="bold" textLength="36.3" lengthAdjust="spacing">Févr</text>
<text x="827.0" y="745.8">6</text>
<text x="944.5" y="745.8">9</text>
<text x="1062.0" y="745.8">14</text>
<text x="1179.5" y="745.8">19</text>
<text x="1303.5" y="745.8">22</text>
<text x="1421.0" y="745.8">27</text>
<text x="1538.2" y="745.8" font-weight="bold" textLength="36.5" lengthAdjust="spacing">Mars</text>
<text x="1656.1" y="745.8">6</text>
</g>
<g stroke="#131722" stroke-width="1.2" fill="none"><circle cx="1802.5" cy="741.5" r="5"/>
<line x1="1808.10" y1="741.50" x2="1810.10" y2="741.50"/>
<line x1="1806.46" y1="745.46" x2="1807.87" y2="746.87"/>
<line x1="1802.50" y1="747.10" x2="1802.50" y2="749.10"/>
<line x1="1798.54" y1="745.46" x2="1797.13" y2="746.87"/>
<line x1="1796.90" y1="741.50" x2="1794.90" y2="741.50"/>
<line x1="1798.54" y1="737.54" x2="1797.13" y2="736.13"/>
<line x1="1802.50" y1="735.90" x2="1802.50" y2="733.90"/>
<line x1="1806.46" y1="737.54" x2="1807.87" y2="736.13"/>
</g>
<g font-size="12" fill="#f44336">
<text x="1476.0" y="15.8" textLength="81.0" lengthAdjust="spacing">0.618(4822.11)</text>
<text x="1477.1" y="46.0" textLength="68.5" lengthAdjust="spacing">0.5(4807.02)</text>
<text x="1475.4" y="77.0" textLength="81.0" lengthAdjust="spacing">0.382(4791.94)</text>
<text x="1476.0" y="114.0" textLength="81.0" lengthAdjust="spacing">0.236(4773.28)</text>
</g>
<text x="3.6" y="19.3" font-size="15.5" fill="#131722" textLength="79" lengthAdjust="spacing">Euro50 <tspan fill="#9598a1">·</tspan> 4h</text>
<circle cx="105.9" cy="13" r="8.8" fill="#26a69a" fill-opacity="0.18"/><circle cx="105.9" cy="13" r="4" fill="#089981"/>
<g font-size="12.4">
<text x="131.2" y="19.3" fill="#50535e" textLength="8.5" lengthAdjust="spacing">O</text>
<text x="141.1" y="19.3" fill="#ef5350" textLength="45.2" lengthAdjust="spacing">4775.07</text>
<text x="192.5" y="19.3" fill="#50535e" textLength="8.3" lengthAdjust="spacing">H</text>
<text x="202.4" y="19.3" fill="#ef5350" textLength="45.0" lengthAdjust="spacing">4775.07</text>
<text x="254.4" y="19.3" fill="#50535e" textLength="6.3" lengthAdjust="spacing">B</text>
<text x="261.7" y="19.3" fill="#ef5350" textLength="46.0" lengthAdjust="spacing">4756.59</text>
<text x="313.9" y="19.3" fill="#50535e" textLength="7.6" lengthAdjust="spacing">C</text>
<text x="322.7" y="19.3" fill="#ef5350" textLength="45.4" lengthAdjust="spacing">4762.77</text>
<text x="374.9" y="19.3" fill="#ef5350" textLength="91.0" lengthAdjust="spacing">−12.30 (−0.26%)</text>
</g>
<rect x="3.5" y="29.8" width="61" height="36.6" rx="4" fill="#fff" stroke="#ef5350" stroke-width="1"/>
<text x="34" y="52.8" font-size="12.4" fill="#ef5350" text-anchor="middle" textLength="45" lengthAdjust="spacing">4762.77</text>
<rect x="109.5" y="29.8" width="61" height="36.6" rx="4" fill="#fff" stroke="#26a69a" stroke-width="1"/>
<text x="140" y="52.8" font-size="12.4" fill="#26a69a" text-anchor="middle" textLength="45" lengthAdjust="spacing">4763.81</text>
<text x="87.3" y="39.5" font-size="11" fill="#50535e" text-anchor="middle">1.04</text>
<rect x="69" y="45.3" width="36" height="21.5" rx="4" fill="#f4f5fa"/>
<text x="87.2" y="59.7" font-size="12.4" fill="#131722" text-anchor="middle">200</text>
<text x="3.9" y="87.8" font-size="12.4" fill="#131722" textLength="23.9" lengthAdjust="spacingAndGlyphs">EMA</text>
<text x="31.8" y="87.8" font-size="12.4" fill="#50535e" textLength="58.6" lengthAdjust="spacing">21 close 0</text>
<text x="97.5" y="87.8" font-size="12.4" fill="#e91e63" textLength="45.8" lengthAdjust="spacing">4755.23</text>
<text x="3.9" y="111.7" font-size="12.4" fill="#131722" textLength="23.9" lengthAdjust="spacingAndGlyphs">EMA</text>
<text x="31.8" y="111.7" font-size="12.4" fill="#50535e" textLength="58.6" lengthAdjust="spacing">34 close 0</text>
<text x="97.5" y="111.7" font-size="12.4" fill="#9c27b0" textLength="45.8" lengthAdjust="spacing">4746.24</text>
<rect x="4.5" y="121.5" width="28" height="20" rx="3.5" fill="#fff" fill-opacity="0.85" stroke="#d1d4dc" stroke-width="1"/>
<polyline points="14.1,133.8 18.5,129.9 22.9,133.8" fill="none" stroke="#131722" stroke-width="1.3"/>
<rect x="0" y="574" width="150" height="16.5" fill="#fff" fill-opacity="0.6"/>
<text x="3.7" y="585.9" font-size="12.4" fill="#131722" textLength="31.8" lengthAdjust="spacing">Stoch</text>
<text x="40.4" y="585.9" font-size="12.4" fill="#50535e" textLength="27.8" lengthAdjust="spacing">5 3 3</text>
<text x="76.5" y="585.9" font-size="12.4" fill="#2196f3" textLength="32" lengthAdjust="spacing">76.30</text>
<text x="114.7" y="585.9" font-size="12.4" fill="#ff6d00" textLength="32" lengthAdjust="spacing">79.94</text>
</svg></body></html>
